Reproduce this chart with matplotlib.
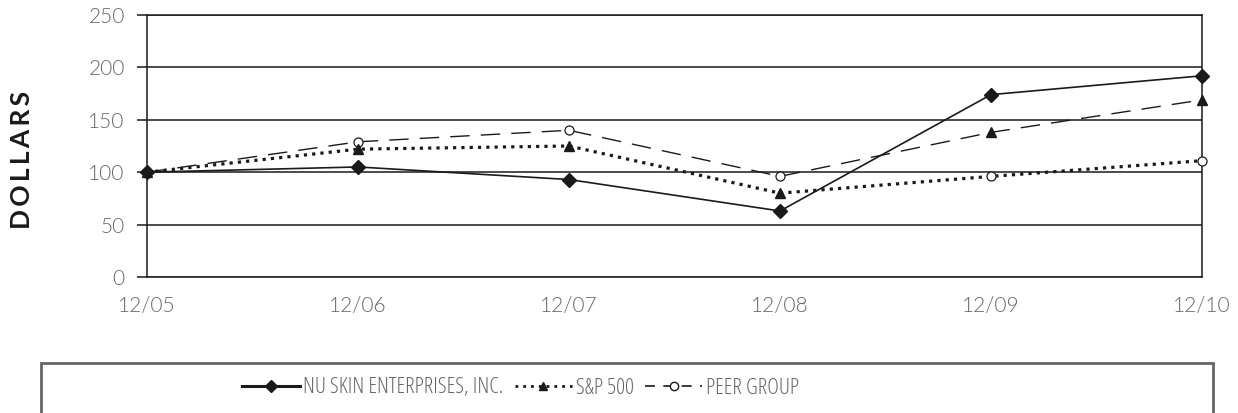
import matplotlib
matplotlib.use('Agg')
import matplotlib.pyplot as plt
from matplotlib.lines import Line2D
from matplotlib.patches import Rectangle

# values (cumulative value of $100)
periods = ['12/05', '12/06', '12/07', '12/08', '12/09', '12/10']
nu_skin = [100, 105, 93, 63, 174, 192]
dotted_line = [100, 122, 125, 80, 96, 111]   # S&P 500 line style
dashed_line = [100, 129, 140, 96, 138, 169]  # peer group line style
# in the source the triangle / circle markers swap lines from 12/09 on
SWAP_FROM = 4
labels = ['NU SKIN ENTERPRISES, INC.', 'S&P 500', 'PEER GROUP']

INK = '#1a1a1a'
GREY = '#666666'

fig = plt.figure(figsize=(12.38, 4.13), dpi=100)
ax = fig.add_axes([147 / 1238, 1 - 277 / 413, 1055 / 1238, 262 / 413])

x = list(range(len(periods)))

ax.plot(x, dashed_line, color=INK, lw=1.0, linestyle=(0, (14, 8)), zorder=3)
ax.plot(x, dotted_line, color=INK, lw=2.3, linestyle=(0, (1, 1.6)), zorder=3)

circ_x = [i for i in x if i < SWAP_FROM]
tri_x = [i for i in x if i >= SWAP_FROM]
cx = circ_x + tri_x
# open circles
cy = [dashed_line[i] for i in circ_x] + [dotted_line[i] for i in tri_x]
ax.plot(cx, cy, 'o', ms=6.5, mfc='white', mec=INK, mew=0.9, zorder=4, clip_on=False)
# triangles
ty = [dotted_line[i] for i in circ_x] + [dashed_line[i] for i in tri_x]
ax.plot(cx, ty, '^', ms=7.5, color=INK, zorder=5, clip_on=False)

ax.plot(x, nu_skin, color=INK, lw=1.2, marker='D', ms=7, zorder=6, clip_on=False)

ax.set_xlim(0, len(periods) - 1)
ax.set_ylim(0, 250)
ax.set_yticks(range(0, 251, 50))
ax.set_xticks(x)
ax.set_xticklabels(periods)
ax.yaxis.grid(True, color=INK, lw=1.1)
ax.set_axisbelow(True)
for s in ax.spines.values():
    s.set_color(INK)
    s.set_linewidth(1.1)

ax.tick_params(axis='y', length=7, width=1.1, color=INK, pad=9)
ax.tick_params(axis='x', length=0, pad=14)
for t in ax.get_yticklabels() + ax.get_xticklabels():
    t.set_fontfamily('Lato')
    t.set_fontweight(300)
    t.set_fontsize(15)
    t.set_color(GREY)

fig.text(22 / 1238, 1 - 160 / 413, '\u2009'.join('DOLLARS'), rotation=90,
         ha='center', va='center', family='Lato', weight='bold', size=19, color=INK)

# legend frame, runs off the bottom edge as in the reference
fig.patches.append(Rectangle((41 / 1238, -0.05), 1172 / 1238, 0.05 + 50 / 413,
                             transform=fig.transFigure, fill=False,
                             edgecolor=GREY, lw=2, zorder=1))

handles = [
    Line2D([], [], color=INK, lw=2.2, marker='D', ms=6),
    Line2D([], [], color=INK, lw=2.0, linestyle=(0, (1, 1.8)), marker='^', ms=6),
    Line2D([], [], color=INK, lw=1.2, linestyle=(0, (6, 5)), marker='o', ms=6,
           mfc='white', mec=INK),
]
fig.legend(handles, labels, loc='center left', bbox_to_anchor=(242 / 1238, 1 - 388 / 413),
           ncol=3, frameon=False, handlelength=2.6, handletextpad=0.15,
           columnspacing=0.5, borderpad=0, borderaxespad=0,
           prop=dict(family='Open Sans', stretch='condensed', weight=300, size=16),
           labelcolor=GREY)

fig.savefig('out.png', dpi=100)
